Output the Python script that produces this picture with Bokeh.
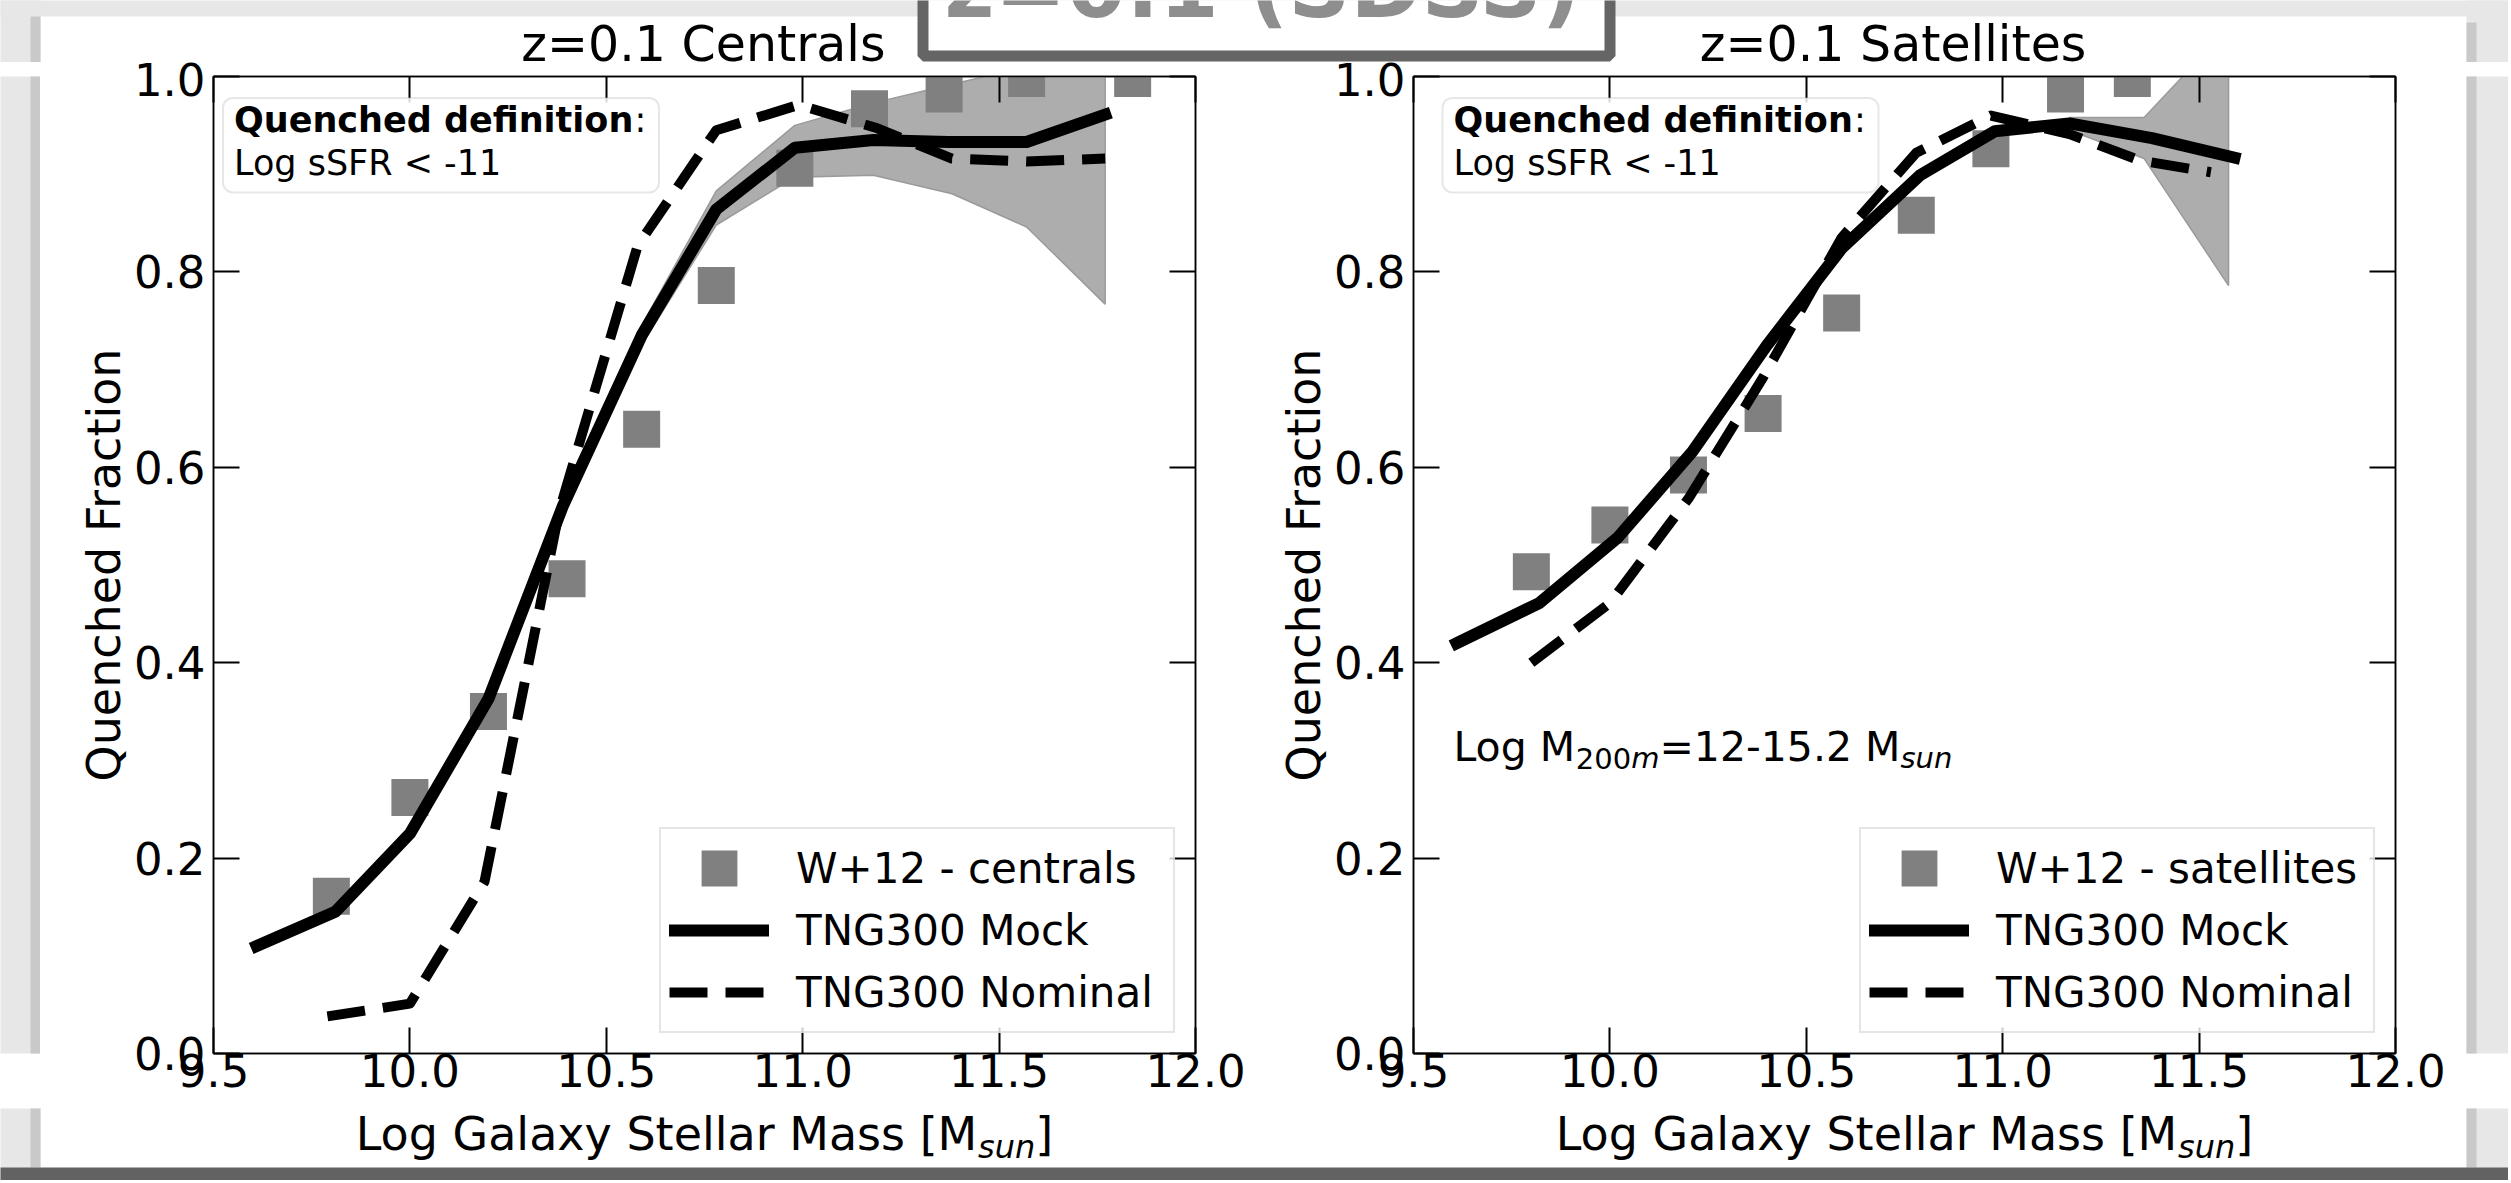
import numpy as np
from bokeh.plotting import figure
from bokeh.layouts import row, column
from bokeh.models import (Range1d, FixedTicker, LinearAxis, Label, BoxAnnotation,
                          Legend, LegendItem)
from bokeh.embed import file_html
from bokeh.resources import INLINE

FONT = "DejaVu Sans"

# ---------------- ticks ----------------
x_ticks = [9.5, 10.0, 10.5, 11.0, 11.5, 12.0]
x_tick_labels = ["9.5", "10.0", "10.5", "11.0", "11.5", "12.0"]
y_ticks = [0.0, 0.2, 0.4, 0.6, 0.8, 1.0]
y_tick_labels = ["0.0", "0.2", "0.4", "0.6", "0.8", "1.0"]

# ---------------- centrals ----------------
cen_obs_x = [9.80, 10.00, 10.20, 10.40, 10.59, 10.78, 10.98, 11.17, 11.36, 11.57, 11.84]
cen_obs_y = [0.161, 0.262, 0.350, 0.486, 0.639, 0.786, 0.906, 0.967, 0.982, 0.998, 0.998]
cen_mock_x = [9.61, 9.81, 10.00, 10.20, 10.39, 10.59, 10.78, 10.98, 11.18, 11.37, 11.57, 11.77]
cen_mock_y = [0.110, 0.145, 0.225, 0.363, 0.561, 0.735, 0.864, 0.927, 0.935, 0.933, 0.933, 0.961]
cen_nom_x = [9.79, 10.00, 10.19, 10.38, 10.58, 10.78, 10.99, 11.19, 11.38, 11.57, 11.77]
cen_nom_y = [0.038, 0.051, 0.176, 0.555, 0.827, 0.945, 0.971, 0.947, 0.916, 0.913, 0.916]
cen_band_x = [10.59, 10.78, 10.98, 11.18, 11.38, 11.57, 11.77]
cen_band_lo = [0.725, 0.848, 0.897, 0.899, 0.880, 0.846, 0.767]
cen_band_hi = [0.745, 0.883, 0.950, 0.973, 0.992, 1.010, 1.020]

# ---------------- satellites ----------------
sat_obs_x = [9.80, 10.00, 10.20, 10.39, 10.59, 10.78, 10.97, 11.16, 11.33]
sat_obs_y = [0.493, 0.541, 0.592, 0.655, 0.758, 0.858, 0.926, 0.982, 0.998]
sat_mock_x = [9.61, 9.82, 10.02, 10.21, 10.40, 10.59, 10.79, 10.98, 11.17, 11.38, 11.59]
sat_mock_y = [0.420, 0.461, 0.528, 0.616, 0.725, 0.824, 0.899, 0.944, 0.952, 0.937, 0.917]
sat_nom_x = [9.80, 10.00, 10.20, 10.39, 10.59, 10.78, 10.97, 11.17, 11.35, 11.53]
sat_nom_y = [0.400, 0.461, 0.568, 0.692, 0.835, 0.922, 0.960, 0.941, 0.914, 0.902]
sat_band_x = [11.17, 11.36, 11.575]
sat_band_lo = [0.945, 0.916, 0.786]
sat_band_hi = [0.958, 0.958, 1.050]

# ---------------- page geometry (pixels, from top-left) ----------------
PAGE_W, PAGE_H = 2508, 1180
CARD_L, CARD_R, CARD_T, CARD_B = 40, 2466, 16, 1167
FRAME_W, FRAME_H = 982, 977
TOP_H = 62
MB_TOP, MB_BOT = 14, 55
MID_H = MB_TOP + FRAME_H + MB_BOT
BOT_H = PAGE_H - TOP_H - MID_H
P1_L, P1_R = 173, 68
P2_L, P2_R = 150, 71
P1_W = P1_L + FRAME_W + P1_R
P2_W = P2_L + FRAME_W + P2_R
STRIP_L = CARD_L
STRIP_R = PAGE_W - STRIP_L - P1_W - P2_W
F1_CX = STRIP_L + P1_L + FRAME_W / 2
F2_CX = STRIP_L + P1_W + P2_L + FRAME_W / 2

XR = (9.5, 12.0)
YR = (0.0, 1.0)
PXX = FRAME_W / (XR[1] - XR[0])
PXY = FRAME_H / (YR[1] - YR[0])
MID = 0.35          # label anchor: middle of text box, above the baseline by MID*size

BG = "#e7e7e7"
SHADOW = "#c9c9c9"
DARK = "#626262"


def fx(px):
    return XR[0] + px / PXX


def fy(px_from_top):
    return YR[1] - px_from_top / PXY


REG = {'L': 1141, 'o': 1253, 'g': 1300, ' ': 651, 'G': 1587, 'a': 1255, 'l': 569,
       'x': 1212, 'y': 1212, 'S': 1300, 't': 803, 'e': 1260, 'r': 842, 'M': 1767,
       's': 1067, '[': 799, ']': 799, 'u': 1298, 'n': 1298, ':': 690, '0': 1303,
       '1': 1303, '2': 1303, '5': 1303, 'm': 1995, '=': 1716, '-': 739, '.': 651}
BOLD = {'Q': 1741, 'u': 1458, 'e': 1389, 'n': 1458, 'c': 1215, 'h': 1458, 'd': 1466,
        ' ': 713, 'f': 891, 'i': 702, 't': 979, 'o': 1407}


def tw(s, size, table):
    return sum(table.get(c, 1300) for c in s) / 2048.0 * size


def add_rich(p, x, y, pieces, dx=0.0, dy=0.0, center=False, color="black"):
    """pieces: (text, size, style, baseline shift in px, + = up); y is the baseline."""
    widths = [tw(t, s, BOLD if st == "bold" else REG) for t, s, st, _ in pieces]
    off = dx - (sum(widths) / 2.0 if center else 0.0)
    for (t, s, st, sdy), w in zip(pieces, widths):
        p.add_layout(Label(x=x, y=y, x_offset=off, y_offset=dy + sdy + MID * s, text=t,
                           text_font=FONT, text_font_size=f"{s}px", text_font_style=st,
                           text_align="left", text_baseline="middle",
                           text_color=color))
        off += w


def box(p, l, r, t, b, color, line_color=None, line_width=0):
    p.add_layout(BoxAnnotation(left=l, right=r, top=t, bottom=b,
                               fill_color=color, fill_alpha=1.0,
                               line_color=line_color, line_width=line_width,
                               line_alpha=1.0 if line_color else 0.0))


def blank(width, height, x0, x1):
    """Axis-less figure whose frame is the whole canvas; y = pixels up from bottom."""
    b = figure(width=width, height=height, x_range=Range1d(x0, x1),
               y_range=Range1d(0, height), output_backend="svg",
               toolbar_location=None, title=None, x_axis_type=None, y_axis_type=None,
               min_border=0, min_border_left=0, min_border_right=0,
               min_border_top=0, min_border_bottom=0)
    b.outline_line_color = None
    b.background_fill_color = "white"
    b.border_fill_color = "white"
    b.xgrid.visible = False
    b.ygrid.visible = False
    return b


def style_axis(ax, ticks, labels, standoff, show=True):
    ax.ticker = FixedTicker(ticks=ticks)
    ax.major_label_overrides = {t: l for t, l in zip(ticks, labels)}
    ax.major_tick_in = 26
    ax.major_tick_out = 0
    ax.minor_tick_in = 0
    ax.minor_tick_out = 0
    ax.major_tick_line_width = 2
    ax.major_tick_line_color = "black"
    ax.axis_line_width = 1.5
    ax.axis_line_color = "black"
    ax.major_label_text_font = FONT
    ax.major_label_standoff = standoff
    if show:
        ax.major_label_text_font_size = "45px"
        ax.major_label_text_color = "black"
    else:
        ax.major_label_text_font_size = "0px"
        ax.major_label_text_alpha = 0
        ax.major_label_standoff = 0


def make_panel(width, bl, br, obs_x, obs_y, obs_label, mock_x, mock_y,
               nom_x, nom_y, band_x, band_lo, band_hi, qdx, right_panel):
    p = figure(width=width, height=MID_H, x_range=Range1d(*XR), y_range=Range1d(*YR),
               output_backend="svg", toolbar_location=None, title=None,
               min_border_left=bl, min_border_right=br,
               min_border_top=MB_TOP, min_border_bottom=MB_BOT)
    p.xgrid.visible = False
    p.ygrid.visible = False
    p.background_fill_color = "white"
    p.border_fill_color = "white"
    p.outline_line_color = "black"
    p.outline_line_width = 1.5

    style_axis(p.xaxis[0], x_ticks, x_tick_labels, 0)
    style_axis(p.yaxis[0], y_ticks, y_tick_labels, 8)
    p.yaxis[0].axis_label = "Quenched Fraction"
    p.yaxis[0].axis_label_text_font = FONT
    p.yaxis[0].axis_label_text_font_size = "46px"
    p.yaxis[0].axis_label_text_font_style = "normal"
    p.yaxis[0].axis_label_text_color = "black"
    p.yaxis[0].axis_label_standoff = 0

    top = LinearAxis()
    style_axis(top, x_ticks, x_tick_labels, 0, show=False)
    p.add_layout(top, "above")
    rgt = LinearAxis()
    style_axis(rgt, y_ticks, y_tick_labels, 0, show=False)
    p.add_layout(rgt, "right")

    # --- data ---
    bx = list(band_x) + list(band_x)[::-1]
    by = list(band_hi) + list(band_lo)[::-1]
    p.patch(bx, by, fill_color="#adadad", line_color="#9a9a9a", line_width=1.5)
    sq = p.scatter(obs_x, obs_y, marker="square", size=26, fill_color="#808080",
                   line_color="#808080", line_width=11, line_join="miter")
    mock = p.line(mock_x, mock_y, line_color="black", line_width=12,
                  line_join="round", line_cap="square")
    nom = p.line(nom_x, nom_y, line_color="black", line_width=10,
                 line_dash="38 18", line_join="round")

    legend = Legend(items=[LegendItem(label=obs_label, renderers=[sq]),
                           LegendItem(label="TNG300 Mock", renderers=[mock]),
                           LegendItem(label="TNG300 Nominal", renderers=[nom])],
                    location="bottom_right", margin=20, padding=8, spacing=0,
                    glyph_width=100, glyph_height=62, label_height=62,
                    label_width=369, label_standoff=27,
                    label_text_font=FONT, label_text_font_size="42px",
                    label_text_color="black",
                    border_line_color="#cccccc", border_line_width=2,
                    background_fill_color="white", background_fill_alpha=0.8)
    p.add_layout(legend)

    # --- quenched definition box ---
    p.add_layout(BoxAnnotation(left=fx(qdx), right=fx(qdx + 436),
                               top=fy(21.4), bottom=fy(116),
                               fill_color="white", fill_alpha=0.85,
                               line_color="#b0b0b0", line_width=2,
                               border_radius=10))
    add_rich(p, fx(qdx + 11), fy(56),
             [("Quenched definition", 35, "bold", 0), (":", 35, "normal", 0)])
    add_rich(p, fx(qdx + 11), fy(98.7), [("Log sSFR < -11", 35, "normal", 0)])

    if right_panel:
        add_rich(p, fx(40), fy(685),
                 [("Log M", 41, "normal", 0), ("200", 29, "normal", -7),
                  ("m", 29, "italic", -7), ("=12-15.2 M", 41, "normal", 0),
                  ("sun", 29, "italic", -7)])
    return p


# ---------------- top banner: titles + slide heading box ----------------
top_b = blank(PAGE_W, TOP_H, 0, PAGE_W)
T = lambda py: TOP_H - py          # page y (down) -> banner data y (up)
box(top_b, -5, PAGE_W + 5, T(-5), T(CARD_T), BG)
box(top_b, -5, CARD_L, T(-5), T(TOP_H + 5), BG)
box(top_b, CARD_L - 10, CARD_L, T(CARD_T), T(TOP_H + 5), SHADOW)
box(top_b, CARD_R, PAGE_W + 5, T(-5), T(TOP_H + 5), BG)
box(top_b, CARD_R, CARD_R + 10, T(CARD_T + 6), T(TOP_H + 5), SHADOW)
box(top_b, 922.5, 1609.5, T(-40), T(55.5), "white", "#656565", 11)
add_rich(top_b, 944, T(17), [("z=0.1 (SDSS)", 86, "bold", 0)], color="#8e8e8e")
add_rich(top_b, F1_CX, T(61), [("z=0.1 Centrals", 49, "normal", 0)], center=True)
add_rich(top_b, F2_CX, T(61), [("z=0.1 Satellites", 49, "normal", 0)], center=True)

# ---------------- side strips ----------------
left_s = blank(STRIP_L, MID_H, 0, STRIP_L)
box(left_s, -5, STRIP_L + 5, -5, MID_H + 5, BG)
box(left_s, STRIP_L - 10, STRIP_L + 5, -5, MID_H + 5, SHADOW)
right_s = blank(STRIP_R, MID_H, 0, STRIP_R)
box(right_s, -5, STRIP_R + 5, -5, MID_H + 5, BG)
box(right_s, -5, 10, -5, MID_H + 5, SHADOW)

# ---------------- panels ----------------
p1 = make_panel(P1_W, P1_L, P1_R, cen_obs_x, cen_obs_y, "W+12 - centrals",
                cen_mock_x, cen_mock_y, cen_nom_x, cen_nom_y,
                cen_band_x, cen_band_lo, cen_band_hi, 9.5, False)
p2 = make_panel(P2_W, P2_L, P2_R, sat_obs_x, sat_obs_y, "W+12 - satellites",
                sat_mock_x, sat_mock_y, sat_nom_x, sat_nom_y,
                sat_band_x, sat_band_lo, sat_band_hi, 29, True)

# ---------------- bottom banner: x-axis labels ----------------
bot_b = blank(PAGE_W, BOT_H, 0, PAGE_W)
B = lambda py: PAGE_H - py         # page y (down) -> banner data y (up)
y0 = TOP_H + MID_H
box(bot_b, -5, CARD_L, B(y0 - 5), B(PAGE_H + 5), BG)
box(bot_b, CARD_L - 10, CARD_L, B(y0 - 5), B(CARD_B), SHADOW)
box(bot_b, CARD_R, PAGE_W + 5, B(y0 - 5), B(PAGE_H + 5), BG)
box(bot_b, CARD_R, CARD_R + 10, B(y0 - 5), B(CARD_B), SHADOW)
box(bot_b, -5, PAGE_W + 5, B(CARD_B), B(PAGE_H + 5), DARK)
for cx in (F1_CX, F2_CX):
    add_rich(bot_b, cx, B(1150),
             [("Log Galaxy Stellar Mass [M", 46, "normal", 0),
              ("sun", 32, "italic", -8),
              ("]", 46, "normal", 0)], center=True)

layout = column(top_b, row(left_s, p1, p2, right_s, spacing=0), bot_b, spacing=0)
open("out.html", "w").write(file_html(layout, INLINE))
